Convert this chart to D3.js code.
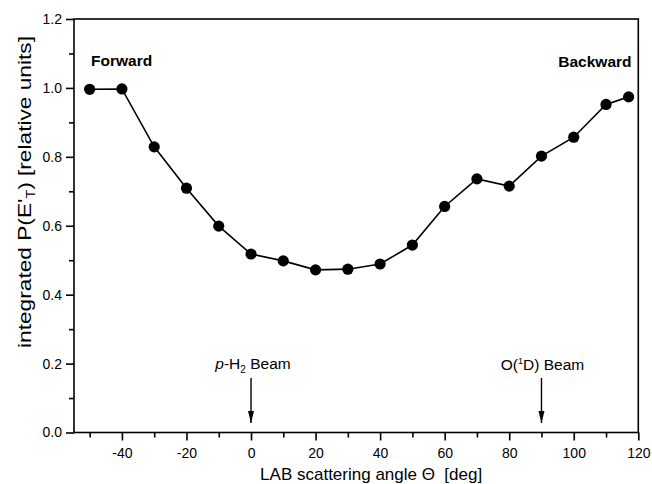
<!DOCTYPE html>
<html><head><meta charset="utf-8">
<script src="https://cdn.jsdelivr.net/npm/d3@7"></script>
<style>
body{margin:0;background:#fff;}
svg{display:block;font-family:"Liberation Sans",Arial,sans-serif;}
</style></head>
<body>
<svg id="c" width="652" height="484"></svg>
<script>
const angles = [-50,-40,-30,-20,-10,0,10,20,30,40,50,60,70,80,90,100,110,117];
const values = [0.996,0.997,0.829,0.709,0.599,0.518,0.498,0.472,0.474,0.489,0.544,0.656,0.736,0.715,0.802,0.857,0.952,0.974];
const xMajorTicks = [-40,-20,0,20,40,60,80,100,120];
const xMinorTicks = [-50,-30,-10,10,30,50,70,90,110];
const yMajorTicks = [0,0.2,0.4,0.6,0.8,1.0,1.2];
const yMinorTicks = [0.1,0.3,0.5,0.7,0.9,1.1];
const beams = [{angle:0, label:"p-H2"},{angle:90, label:"O(1D)"}];

const svg = d3.select("#c");
const L=74, R=638.3, T=19, B=432.5;
const x = d3.scaleLinear().domain([-54.85,120]).range([L,R]);
const y = d3.scaleLinear().domain([0,1.2]).range([B,T]);

// frame
svg.append("rect").attr("x",L).attr("y",T).attr("width",R-L).attr("height",B-T)
  .attr("fill","none").attr("stroke","#000").attr("stroke-width",1.6);

// x axis
const xa = svg.append("g").attr("transform",`translate(0,${B})`)
  .call(d3.axisBottom(x).tickValues(xMajorTicks).tickSize(8).tickPadding(8).tickFormat(d=>String(d)));
xa.select(".domain").remove();
xa.selectAll(".tick line").attr("stroke-width",1.6);
xa.selectAll(".tick text").attr("font-size",14).attr("font-family","Liberation Sans, Arial, sans-serif").attr("fill","#000");
const xm = svg.append("g").attr("transform",`translate(0,${B})`)
  .call(d3.axisBottom(x).tickValues(xMinorTicks).tickSize(5).tickFormat(""));
xm.select(".domain").remove();
xm.selectAll(".tick line").attr("stroke-width",1.6);

// y axis
const ya = svg.append("g").attr("transform",`translate(${L},0)`)
  .call(d3.axisLeft(y).tickValues(yMajorTicks).tickSize(8).tickPadding(4).tickFormat(d=>d.toFixed(1)));
ya.select(".domain").remove();
ya.selectAll(".tick line").attr("stroke-width",1.6);
ya.selectAll(".tick text").attr("font-size",14).attr("font-family","Liberation Sans, Arial, sans-serif").attr("fill","#000");
const ym = svg.append("g").attr("transform",`translate(${L},0)`)
  .call(d3.axisLeft(y).tickValues(yMinorTicks).tickSize(5).tickFormat(""));
ym.select(".domain").remove();
ym.selectAll(".tick line").attr("stroke-width",1.6);

// line + points
const pts = angles.map((a,i)=>[a,values[i]]);
svg.append("path").datum(pts)
  .attr("d", d3.line().x(d=>x(d[0])).y(d=>y(d[1])))
  .attr("fill","none").attr("stroke","#000").attr("stroke-width",1.6);
svg.selectAll("circle.p").data(pts).enter().append("circle")
  .attr("cx",d=>x(d[0])).attr("cy",d=>y(d[1])).attr("r",5.6).attr("fill","#000");

// labels Forward / Backward
svg.append("text").attr("x",91).attr("y",66).attr("font-size",15.5).attr("font-weight","bold").text("Forward");
svg.append("text").attr("x",631.5).attr("y",66.5).attr("font-size",15.5).attr("font-weight","bold")
  .attr("text-anchor","end").text("Backward");

// beam arrows
svg.append("defs").append("marker").attr("id","ah").attr("viewBox","0 0 10 10")
  .attr("refX",10).attr("refY",5).attr("markerWidth",12).attr("markerHeight",12)
  .attr("markerUnits","userSpaceOnUse").attr("orient","auto")
  .append("path").attr("d","M0,2.5 L10,5 L0,7.5 Z").attr("fill","#000");
beams.forEach(b=>{
  svg.append("line").attr("x1",x(b.angle)).attr("x2",x(b.angle)).attr("y1",378).attr("y2",423)
    .attr("stroke","#000").attr("stroke-width",1.4).attr("marker-end","url(#ah)");
});
const t1 = svg.append("text").attr("x",x(0)+2).attr("y",369).attr("font-size",15.5).attr("text-anchor","middle");
t1.append("tspan").attr("font-style","italic").text("p");
t1.append("tspan").text("-H");
t1.append("tspan").attr("font-size",10).attr("dy",4).text("2");
t1.append("tspan").attr("dy",-4).text(" Beam");
const t2 = svg.append("text").attr("x",x(90)+1).attr("y",370).attr("font-size",15.5).attr("text-anchor","middle");
t2.append("tspan").text("O(");
t2.append("tspan").attr("font-size",9).attr("dy",-6).text("1");
t2.append("tspan").attr("dy",6).text("D) Beam");

// axis titles
const xt = svg.append("text").attr("x",(L+R)/2+15).attr("y",480).attr("font-size",17).attr("text-anchor","middle");
xt.text("LAB scattering angle \u0398  [deg]").attr("xml:space","preserve");
const yt = svg.append("text").attr("transform",`translate(31,${192}) rotate(-90)`).attr("font-size",19)
  .attr("text-anchor","middle").attr("textLength",312).attr("lengthAdjust","spacingAndGlyphs");
yt.append("tspan").text("integrated P(E'");
yt.append("tspan").attr("font-size",12).attr("dy",4).text("T");
yt.append("tspan").attr("dy",-4).text(") [relative units]");
</script>
</body></html>
